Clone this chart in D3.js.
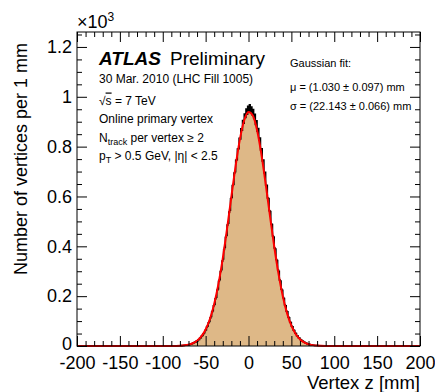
<!DOCTYPE html>
<html>
<head>
<meta charset="utf-8">
<script src="https://d3js.org/d3.v7.min.js"></script>
<style>
  body { margin: 0; background: #fff; }
  text { font-family: "Liberation Sans", Arial, sans-serif; fill: #000; }
  .axis text { font-size: 18px; font-family: "Liberation Sans", Arial, sans-serif; }
  .axis line { stroke: #000; }
</style>
</head>
<body>
<svg width="435" height="392"></svg>
<script>
// histogram: vertices per 1 mm bin, in units of 10^3, first bin lower edge at binStart
const binStart = -85;
const counts = [
  .0004,.0007,.0006,.0009,.0011,.0010,.0016,.0015,.0022,.0021,.0030,.0028,.0038,.0037,.0052,.0051,.0064,.0068,.0085,.0097,
  .0118,.0126,.0157,.0165,.0198,.0203,.0252,.0261,.0318,.0332,.0401,.0418,.0494,.0528,.0617,.0655,.0762,.0803,.0935,.0982,
  .112,.118,.136,.141,.162,.167,.190,.196,.224,.229,.260,.266,.299,.306,.341,.349,.387,.395,.436,.443,
  .486,.493,.538,.545,.591,.596,.644,.648,.694,.699,.745,.747,.791,.792,.834,.831,.872,.866,.905,.894,
  .931,.917,.951,.930,.962,.938,.968,.942,.959,.928,.949,.913,.930,.889,.904,.862,.873,.828,.835,.787,
  .792,.742,.746,.695,.697,.645,.645,.594,.592,.543,.540,.491,.488,.441,.437,.393,.389,.347,.343,.305,
  .300,.265,.261,.228,.224,.195,.191,.165,.162,.139,.137,.116,.113,.096,.094,.079,.077,.064,.062,.052,
  .050,.041,.040,.033,.032,.026,.025,.020,.0196,.0162,.0155,.0124,.0116,.0094,.0084,.0066,.0063,.0051,.0047,.0042,
  .0033,.0031,.0025,.0024,.0018,.0018,.0013,.0012,.0009,.0008,.0006,.0005,.0004
];

// gaussian fit curve (z in mm, value in 10^3)
const fitZ = [-200,-100,-90,-80,-75,-70,-65,-60,-55,-50,-45,-40,-35,-30,-25,-20,-15,-10,-5,0,
  5,10,15,20,25,30,35,40,45,50,55,60,65,70,75,80,90,100,200];
const fitVal = [0,0.00003,0.0002,0.0012,0.0026,0.0055,0.0110,0.0210,0.0382,0.0660,0.1083,0.1688,0.2501,0.3520,0.4709,0.5987,0.7232,0.8303,0.9058,0.9390,
  0.9251,0.8659,0.7703,0.6512,0.5231,0.3993,0.2897,0.1998,0.1309,0.0814,0.0482,0.0271,0.0145,0.0073,0.0035,0.0016,0.0003,0.00005,0];

const xTicks = [-200,-150,-100,-50,0,50,100,150,200];
const yTicks = [0,0.2,0.4,0.6,0.8,1,1.2];

const svg = d3.select("svg");
const frameL = 77, frameR = 420, frameT = 32, frameB = 346;

const x = d3.scaleLinear().domain([-200, 200]).range([frameL, frameR]);
const y = d3.scaleLinear().domain([0, 1.26]).range([frameB, frameT]);

// full 400-bin histogram
const bins = d3.range(-200, 200).map(z => ({
  z: z,
  v: (z >= binStart && z < binStart + counts.length) ? counts[z - binStart] : 0
}));
bins.push({ z: 200, v: 0 });

svg.append("path")
    .datum(bins)
    .attr("fill", "#deb887")
    .attr("d", d3.area()
      .x(d => x(d.z)).y0(y(0)).y1(d => y(d.v))
      .curve(d3.curveStepAfter));

svg.append("path")
    .datum(bins)
    .attr("fill", "none")
    .attr("stroke", "#000")
    .attr("stroke-width", 1.5)
    .attr("d", d3.line()
      .x(d => x(d.z)).y(d => y(d.v))
      .curve(d3.curveStepAfter));

svg.append("path")
    .datum(fitZ.map((z, i) => [z, fitVal[i]]))
    .attr("fill", "none")
    .attr("stroke", "#ff0000")
    .attr("stroke-width", 2)
    .attr("d", d3.line()
      .x(d => x(d[0])).y(d => y(d[1]))
      .curve(d3.curveMonotoneX));

// axes, ticks pointing inwards, mirrored on top and right
const xMinor = d3.range(-190, 200, 10).filter(v => v % 50 !== 0);
const yMinor = d3.range(0.05, 1.26, 0.05).filter(v => Math.abs(v * 5 - Math.round(v * 5)) > 0.01);

function addAxis(axis, tx, ty) {
  const g = svg.append("g")
      .attr("class", "axis")
      .attr("transform", `translate(${tx},${ty})`)
      .call(axis);
  g.select(".domain").remove();
  return g;
}

addAxis(d3.axisBottom(x).tickValues(xTicks).tickSize(-10).tickPadding(10)
    .tickFormat(d => String(d)), 0, frameB);
addAxis(d3.axisBottom(x).tickValues(xMinor).tickSize(-5).tickFormat(""), 0, frameB);
addAxis(d3.axisTop(x).tickValues(xTicks).tickSize(-10).tickFormat(""), 0, frameT);
addAxis(d3.axisTop(x).tickValues(xMinor).tickSize(-5).tickFormat(""), 0, frameT);

const yAx = addAxis(d3.axisLeft(y).tickValues(yTicks).tickSize(-10).tickPadding(5)
    .tickFormat(d => String(+d.toFixed(1))), frameL, 0);
yAx.selectAll("text").filter(d => d === 0).attr("dy", "0.2em");
addAxis(d3.axisLeft(y).tickValues(yMinor).tickSize(-5).tickFormat(""), frameL, 0);
addAxis(d3.axisRight(y).tickValues(yTicks).tickSize(-10).tickFormat(""), frameR, 0);
addAxis(d3.axisRight(y).tickValues(yMinor).tickSize(-5).tickFormat(""), frameR, 0);

svg.append("rect")
    .attr("x", frameL).attr("y", frameT)
    .attr("width", frameR - frameL).attr("height", frameB - frameT)
    .attr("fill", "none")
    .attr("stroke", "#000")
    .attr("stroke-width", 1);

// exponent label
const ex = svg.append("text").attr("x", frameL).attr("y", 28).style("font-size", "18px");
ex.append("tspan").text("\u00d710");
ex.append("tspan").attr("dy", -7).style("font-size", "12px").text("3");

// axis titles
svg.append("text")
    .attr("transform", `translate(27,43) rotate(-90)`)
    .attr("text-anchor", "end")
    .style("font-size", "18px")
    .text("Number of vertices per 1 mm");

svg.append("text")
    .attr("x", frameR).attr("y", 389)
    .attr("text-anchor", "end")
    .style("font-size", "18.5px")
    .text("Vertex z [mm]");

// ATLAS label block
svg.append("text")
    .attr("x", 99).attr("y", 65)
    .style("font-size", "19px").style("font-weight", "bold").style("font-style", "italic")
    .text("ATLAS");
svg.append("text")
    .attr("x", 170).attr("y", 65)
    .style("font-size", "19px")
    .text("Preliminary");

svg.append("text").attr("x", 99).attr("y", 83).style("font-size", "12px")
    .text("30 Mar. 2010 (LHC Fill 1005)");

const rs = svg.append("text").attr("x", 99).attr("y", 104.5).style("font-size", "12px");
rs.append("tspan").text("\u221a");
rs.append("tspan").style("text-decoration", "overline").text("s");
rs.append("tspan").text(" = 7 TeV");

svg.append("text").attr("x", 99).attr("y", 123).style("font-size", "12px")
    .text("Online primary vertex");

const nt = svg.append("text").attr("x", 99).attr("y", 141.5).style("font-size", "12px");
nt.append("tspan").text("N");
nt.append("tspan").attr("dy", 3).style("font-size", "9px").text("track");
nt.append("tspan").attr("dy", -3).text(" per vertex \u2265 2");

const pt = svg.append("text").attr("x", 99).attr("y", 160).style("font-size", "12px");
pt.append("tspan").text("p");
pt.append("tspan").attr("dy", 3).style("font-size", "9px").text("T");
pt.append("tspan").attr("dy", -3).text(" > 0.5 GeV, |\u03b7| < 2.5");

// fit result block
svg.append("text").attr("x", 290).attr("y", 67).style("font-size", "11px").text("Gaussian fit:");
svg.append("text").attr("x", 290).attr("y", 91).style("font-size", "11px").text("\u03bc = (1.030 \u00b1 0.097) mm");
svg.append("text").attr("x", 290).attr("y", 110).style("font-size", "11px").text("\u03c3 = (22.143 \u00b1 0.066) mm");
</script>
</body>
</html>
